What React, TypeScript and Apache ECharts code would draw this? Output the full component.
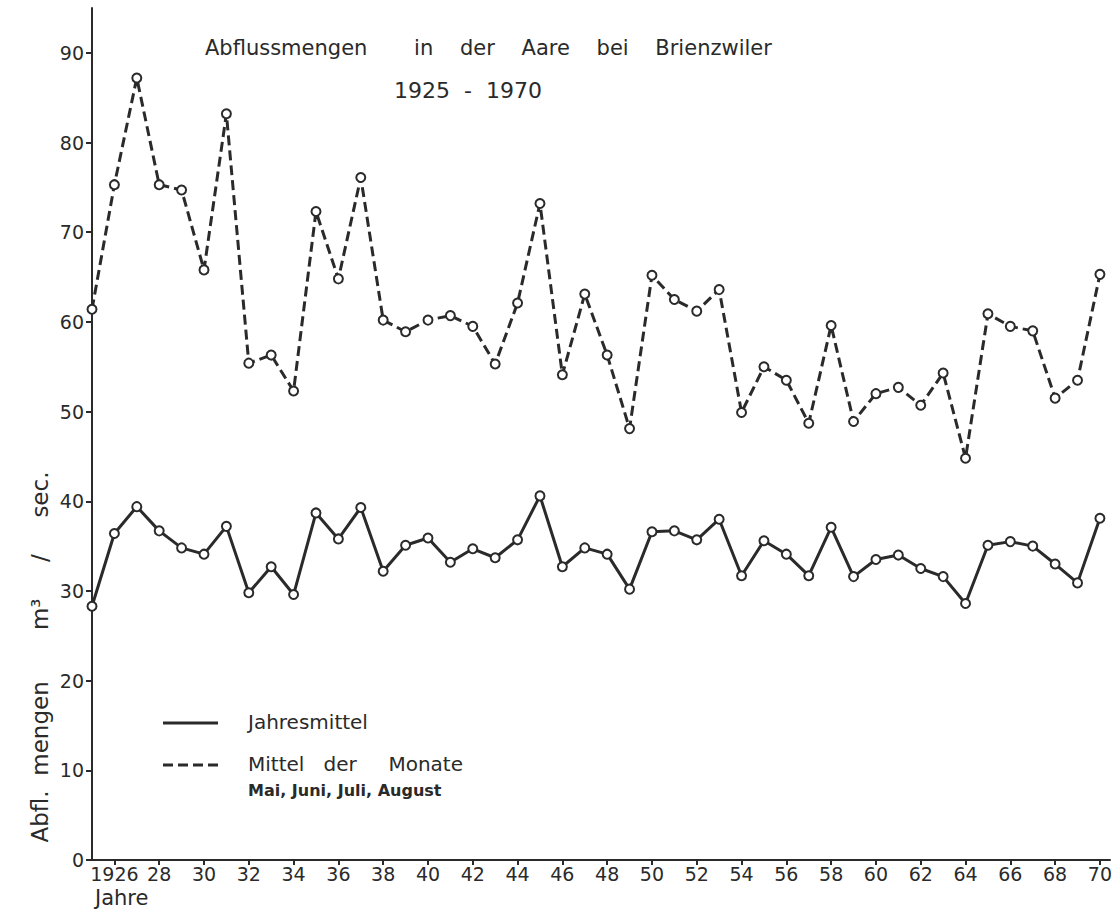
import React, { useEffect, useRef } from 'react';
import * as echarts from 'echarts';

const years = [
  1925, 1926, 1927, 1928, 1929, 1930, 1931, 1932, 1933, 1934, 1935, 1936,
  1937, 1938, 1939, 1940, 1941, 1942, 1943, 1944, 1945, 1946, 1947, 1948,
  1949, 1950, 1951, 1952, 1953, 1954, 1955, 1956, 1957, 1958, 1959, 1960,
  1961, 1962, 1963, 1964, 1965, 1966, 1967, 1968, 1969, 1970,
];

const jahresmittel = [
  28.3, 36.4, 39.4, 36.7, 34.8, 34.1, 37.2, 29.8, 32.7, 29.6, 38.7, 35.8,
  39.3, 32.2, 35.1, 35.9, 33.2, 34.7, 33.7, 35.7, 40.6, 32.7, 34.8, 34.1,
  30.2, 36.6, 36.7, 35.7, 38.0, 31.7, 35.6, 34.1, 31.7, 37.1, 31.6, 33.5,
  34.0, 32.5, 31.6, 28.6, 35.1, 35.5, 35.0, 33.0, 30.9, 38.1,
];

const mittelMonate = [
  61.4, 75.3, 87.2, 75.3, 74.7, 65.8, 83.2, 55.4, 56.3, 52.3, 72.3, 64.8,
  76.1, 60.2, 58.9, 60.2, 60.7, 59.5, 55.3, 62.1, 73.2, 54.1, 63.1, 56.3,
  48.1, 65.2, 62.5, 61.2, 63.6, 49.9, 55.0, 53.5, 48.7, 59.6, 48.9, 52.0,
  52.7, 50.7, 54.3, 44.8, 60.9, 59.5, 59.0, 51.5, 53.5, 65.3,
];

const xTickValues = [
  1926, 1928, 1930, 1932, 1934, 1936, 1938, 1940, 1942, 1944, 1946, 1948,
  1950, 1952, 1954, 1956, 1958, 1960, 1962, 1964, 1966, 1968, 1970,
];
const xTickLabels = [
  '1926', '28', '30', '32', '34', '36', '38', '40', '42', '44', '46', '48',
  '50', '52', '54', '56', '58', '60', '62', '64', '66', '68', '70',
];
const yTickValues = [0, 10, 20, 30, 40, 50, 60, 70, 80, 90];
const yTickLabels = ['0', '10', '20', '30', '40', '50', '60', '70', '80', '90'];

export default function App() {
  const ref = useRef<HTMLDivElement>(null);

  useEffect(() => {
    if (!ref.current) return;
    const chart = echarts.init(ref.current, null, { renderer: 'svg' });
    const ink = '#2a2a2a';
    const font = 'DejaVu Sans';

    chart.setOption({
      animation: false,
      backgroundColor: '#ffffff',
      textStyle: { fontFamily: font, color: ink },
      grid: { left: 92, right: 10, top: 8, bottom: 57 },
      xAxis: {
        type: 'value',
        min: 1925,
        max: 1970.45,
        axisLine: { show: true, onZero: false, lineStyle: { color: ink, width: 2 } },
        axisTick: {
          show: true,
          customValues: xTickValues,
          length: 5,
          lineStyle: { color: ink, width: 2 },
        },
        axisLabel: {
          customValues: xTickValues,
          formatter: (v: number) => {
            const i = xTickValues.indexOf(Math.round(v));
            return i >= 0 ? xTickLabels[i] : '';
          },
          color: ink,
          fontSize: 19,
          fontFamily: font,
          margin: 4,
        },
        splitLine: { show: false },
      },
      yAxis: {
        type: 'value',
        min: 0,
        max: 95,
        axisLine: { show: true, lineStyle: { color: ink, width: 2 } },
        axisTick: {
          show: true,
          customValues: yTickValues,
          length: 6,
          lineStyle: { color: ink, width: 2 },
        },
        axisLabel: {
          customValues: yTickValues,
          formatter: (v: number) => {
            const i = yTickValues.indexOf(Math.round(v));
            return i >= 0 ? yTickLabels[i] : '';
          },
          color: ink,
          fontSize: 19,
          fontFamily: font,
          margin: 8,
        },
        splitLine: { show: false },
      },
      series: [
        {
          name: 'Jahresmittel',
          type: 'line',
          data: years.map((y, i) => [y, jahresmittel[i]]),
          symbol: 'emptyCircle',
          symbolSize: 9,
          lineStyle: { color: ink, width: 3 },
          itemStyle: { color: ink, borderColor: ink, borderWidth: 1.5 },
        },
        {
          name: 'Mittel der Monate',
          type: 'line',
          data: years.map((y, i) => [y, mittelMonate[i]]),
          symbol: 'emptyCircle',
          symbolSize: 9,
          lineStyle: { color: ink, width: 3, type: [10, 5] },
          itemStyle: { color: ink, borderColor: ink, borderWidth: 1.5 },
        },
      ],
      graphic: [
        {
          type: 'text',
          x: 205,
          y: 48,
          style: {
            text: 'Abflussmengen       in    der    Aare    bei    Brienzwiler',
            fontSize: 21,
            fontFamily: font,
            fill: ink,
            align: 'left',
            verticalAlign: 'middle',
          },
        },
        {
          type: 'text',
          x: 468,
          y: 90,
          style: {
            text: '1925  -  1970',
            fontSize: 22,
            fontFamily: font,
            fill: ink,
            align: 'center',
            verticalAlign: 'middle',
          },
        },
        {
          type: 'text',
          x: 40,
          y: 657,
          rotation: Math.PI / 2,
          style: {
            text: 'Abfl.  mengen       m³     /     sec.',
            fontSize: 23,
            fontFamily: font,
            fill: ink,
            align: 'center',
            verticalAlign: 'middle',
          },
        },
        {
          type: 'text',
          x: 95,
          y: 898,
          style: {
            text: 'Jahre',
            fontSize: 21,
            fontFamily: font,
            fill: ink,
            align: 'left',
            verticalAlign: 'middle',
          },
        },
        {
          type: 'line',
          shape: { x1: 163, y1: 723, x2: 218, y2: 723 },
          style: { stroke: ink, lineWidth: 3 },
        },
        {
          type: 'line',
          shape: { x1: 163, y1: 765, x2: 218, y2: 765 },
          style: { stroke: ink, lineWidth: 3, lineDash: [10, 5] },
        },
        {
          type: 'text',
          x: 248,
          y: 722,
          style: {
            text: 'Jahresmittel',
            fontSize: 20,
            fontFamily: font,
            fill: ink,
            align: 'left',
            verticalAlign: 'middle',
          },
        },
        {
          type: 'text',
          x: 248,
          y: 764,
          style: {
            text: 'Mittel   der     Monate',
            fontSize: 20,
            fontFamily: font,
            fill: ink,
            align: 'left',
            verticalAlign: 'middle',
          },
        },
        {
          type: 'text',
          x: 248,
          y: 790,
          style: {
            text: 'Mai, Juni, Juli, August',
            fontSize: 16,
            fontWeight: 'bold',
            fontFamily: font,
            fill: ink,
            align: 'left',
            verticalAlign: 'middle',
          },
        },
      ],
    });

    return () => {
      chart.dispose();
    };
  }, []);

  return (
    <div
      ref={ref}
      style={{ position: 'fixed', left: 0, top: 0, width: 1120, height: 917, background: '#fff' }}
    />
  );
}
